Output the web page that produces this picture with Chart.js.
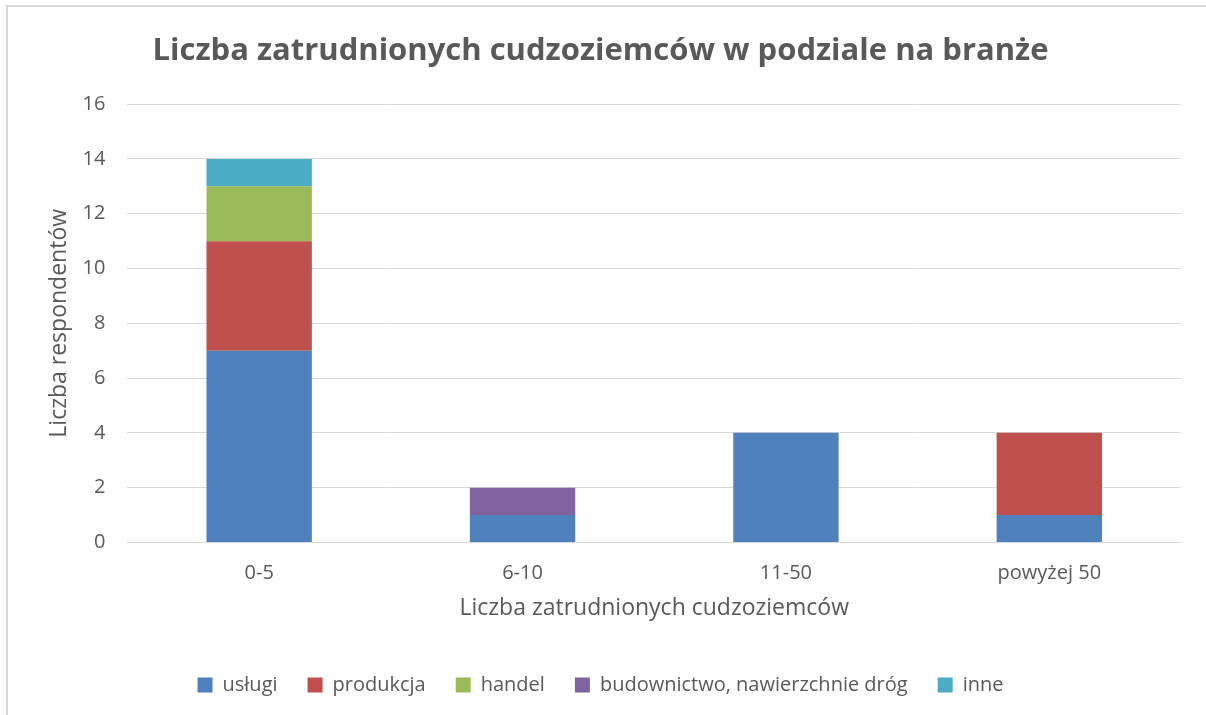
<!DOCTYPE html>
<html>
<head>
<meta charset="utf-8">
<script src="https://cdn.jsdelivr.net/npm/chart.js@4/dist/chart.umd.min.js"></script>
<style>
  html, body { margin: 0; padding: 0; background: #fff; overflow: hidden; }
  #wrap {
    position: absolute; left: 6px; top: 5px; width: 1200px; height: 710px;
    border-top: 2px solid #d9d9d9; border-left: 2px solid #d9d9d9;
    overflow: hidden;
  }
  canvas { display: block; }
</style>
</head>
<body>
<div id="wrap"><canvas id="chart" width="1198" height="720"></canvas></div>
<script>
const categories = ['0-5', '6-10', '11-50', 'powyżej 50'];
const uslugi = [7, 1, 4, 1];
const produkcja = [4, 0, 0, 3];
const handel = [2, 0, 0, 0];
const budownictwo = [0, 1, 0, 0];
const inne = [1, 0, 0, 0];

const grey = '#595959';
const font = "'Open Sans', sans-serif";

const ctx = document.getElementById('chart');

const chart = new Chart(ctx, {
  type: 'bar',
  data: {
    labels: categories,
    datasets: [
      { label: 'usługi', data: uslugi, backgroundColor: '#4f81bd' },
      { label: 'produkcja', data: produkcja, backgroundColor: '#c0504d' },
      { label: 'handel', data: handel, backgroundColor: '#9bbb59' },
      { label: 'budownictwo, nawierzchnie dróg', data: budownictwo, backgroundColor: '#8064a2' },
      { label: 'inne', data: inne, backgroundColor: '#4bacc6' }
    ]
  },
  options: {
    responsive: false,
    animation: false,
    datasets: {
      bar: { categoryPercentage: 0.4, barPercentage: 1 }
    },
    layout: { padding: { left: 12, right: 25, top: 0, bottom: 22 } },
    plugins: {
      title: {
        display: true,
        text: 'Liczba zatrudnionych cudzoziemców w podziale na branże',
        color: grey,
        font: { family: font, size: 31, weight: 'bold' },
        padding: { top: 26, bottom: 34 }
      },
      legend: {
        position: 'bottom',
        labels: {
          color: grey,
          font: { family: font, size: 20 },
          boxWidth: 15,
          boxHeight: 15,
          padding: 30
        }
      },
      tooltip: { enabled: false }
    },
    scales: {
      x: {
        stacked: true,
        grid: { display: false },
        border: { color: '#d9d9d9', width: 1 },
        ticks: { color: grey, font: { family: font, size: 20 }, padding: 11 },
        title: {
          display: true,
          text: 'Liczba zatrudnionych cudzoziemców',
          color: grey,
          font: { family: font, size: 23 },
          padding: { top: -2, bottom: 23 }
        }
      },
      y: {
        stacked: true,
        min: 0,
        max: 16,
        ticks: { stepSize: 2, color: grey, font: { family: font, size: 20 }, padding: 22 },
        grid: { color: '#d9d9d9', drawTicks: false },
        border: { display: false },
        title: {
          display: true,
          text: 'Liczba respondentów',
          color: grey,
          font: { family: font, size: 23 },
          padding: { top: 26, bottom: -13 }
        }
      }
    }
  }
});
</script>
</body>
</html>
